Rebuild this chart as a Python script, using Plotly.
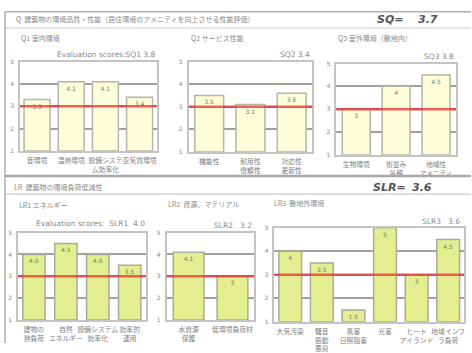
import plotly.graph_objects as go

W, H = 472, 353
JP = "Noto Sans CJK JP"

# ---- data ----
q1_cats = ["音環境", "温熱環境", "設備システ<br>ム効率化", "空気質環境"]
q1_vals = [3.3, 4.1, 4.1, 3.4]
q2_cats = ["機能性", "耐用性<br>信頼性", "対応性<br>更新性"]
q2_vals = [3.5, 3.1, 3.6]
q3_cats = ["生物環境", "街並み<br>景観", "地域性<br>アメニティ"]
q3_vals = [3, 4, 4.5]
lr1_cats = ["建物の<br>熱負荷", "自然<br>エネルギー", "設備システム<br>効率化", "効率的<br>運用"]
lr1_vals = [4.0, 4.5, 4.0, 3.5]
lr2_cats = ["水資源<br>保護", "低環境負荷材"]
lr2_vals = [4.1, 3]
lr3_cats = ["大気汚染", "騒音<br>振動<br>悪臭", "風害<br>日照阻害", "光害", "ヒート<br>アイランド", "地域インフ<br>ラ負荷"]
lr3_vals = [4, 3.5, 1.5, 5, 3, 4.5]
ref_level = 3
sq_total, slr_total = 3.7, 3.6
sub_scores = {"SQ1": 3.8, "SQ2": 3.4, "SQ3": 3.8, "SLR1": 4.0, "SLR2": 3.2, "SLR3": 3.6}

Q_FILL, Q_LINE = "#fffdd9", "#b8b5a2"
L_FILL, L_LINE = "#e4ee90", "#a9ab98"

# panel: cats, vals, fmt, fill, line, x px range, y px range, bar width
panels = [
    (q1_cats, q1_vals, "{:.1f}", Q_FILL, Q_LINE, (20, 157), (60, 153), 0.76),
    (q2_cats, q2_vals, "{:.1f}", Q_FILL, Q_LINE, (189, 313), (60, 154), 0.7),
    (q3_cats, q3_vals, "{:g}", Q_FILL, Q_LINE, (337, 457), (62, 157), 0.7),
    (lr1_cats, lr1_vals, "{:.1f}", L_FILL, L_LINE, (18, 146), (238, 329), 0.7),
    (lr2_cats, lr2_vals, "{:g}", L_FILL, L_LINE, (167, 255), (238, 329), 0.7),
    (lr3_cats, lr3_vals, "{:g}", L_FILL, L_LINE, (275, 465), (233, 331), 0.72),
]

fig = go.Figure()
layout = dict(width=W, height=H, margin=dict(l=0, r=0, t=0, b=0),
              paper_bgcolor="white", plot_bgcolor="white", showlegend=False,
              font=dict(family=JP, color="#888"))
shapes = []
for i, (cats, vals, fmt, fill, lc, (x0, x1), (y0, y1), bw) in enumerate(panels):
    n = "" if i == 0 else str(i + 1)
    fig.add_trace(go.Bar(
        x=cats, y=[v - 1 for v in vals], base=1, xaxis="x" + n, yaxis="y" + n, width=bw,
        marker=dict(color=fill, line=dict(color=lc, width=1.5)),
        text=[fmt.format(v) for v in vals], textposition="inside",
        insidetextanchor="end", textfont=dict(size=6, color="#777", family="DejaVu Sans"),
        constraintext="none", hoverinfo="skip",
    ))
    layout["xaxis" + n] = dict(domain=[x0 / W, x1 / W], anchor="y" + n,
                               showline=True, linecolor="#c4c4c4", linewidth=1.5, mirror=True,
                               showgrid=False, tickfont=dict(size=6.8, color="#808080", family=JP),
                               tickangle=0, fixedrange=True, ticklabelstandoff=2)
    layout["yaxis" + n] = dict(domain=[1 - y1 / H, 1 - y0 / H], anchor="x" + n,
                               range=[1, 5], dtick=1, tick0=1,
                               showline=True, linecolor="#c4c4c4", linewidth=1.5, mirror=True,
                               showgrid=True, gridcolor="#a0a0a0", gridwidth=2,
                               zeroline=False, tickfont=dict(size=6, color="#888", family="DejaVu Sans"),
                               ticklabelstandoff=3, fixedrange=True)
    shapes.append(dict(type="line", xref="x" + n + " domain", yref="y" + n,
                       x0=0, x1=1, y0=ref_level, y1=ref_level,
                       line=dict(color="rgba(238,55,55,0.8)", width=2.5), layer="above"))

# frame lines
def hline(y, xa=5, xb=472, color="#b0b0b0", w=1.5):
    shapes.append(dict(type="line", xref="paper", yref="paper", x0=xa / W, x1=xb / W,
                       y0=1 - y / H, y1=1 - y / H, line=dict(color=color, width=w)))

hline(8)
hline(25, color="#c8c8c8", w=1)
hline(179, color="#a8a8a8", w=2.5)
hline(198, color="#c0c0c0", w=1)
shapes.append(dict(type="line", xref="paper", yref="paper", x0=5 / W, x1=5 / W,
                   y0=0, y1=1 - 8 / H, line=dict(color="#b0b0b0", width=1.5)))
layout["shapes"] = shapes

def ann(text, x, y, size=7, anchor="left", color="#8a8a8a", family=JP):
    return dict(text=text, x=x / W, y=1 - y / H, xref="paper", yref="paper",
                xanchor=anchor, yanchor="middle", showarrow=False,
                font=dict(size=size, color=color, family=family))

anns = [
    ann("Q  建築物の環境品質・性能（居住環境のアメニティを向上させる性能評価）", 14, 16, 7),
    ann("<b><i>SQ=</i></b>", 376, 16, 11, color="#555", family="DejaVu Sans"),
    ann("<b><i>%s</i></b>" % sq_total, 417, 16, 11, color="#555", family="DejaVu Sans"),
    ann("Q1 室内環境", 19, 35, 7),
    ann("Q2 サービス性能", 189, 35, 7),
    ann("Q3 室外環境（敷地内）", 337, 35, 7),
    ann("Evaluation scores:SQ1 %.1f" % sub_scores["SQ1"], 158, 53, 7.5, "right", family="DejaVu Sans"),
    ann("SQ2 %.1f" % sub_scores["SQ2"], 313, 53, 7.5, "right", family="DejaVu Sans"),
    ann("SQ3 %.1f" % sub_scores["SQ3"], 457, 55, 7.5, "right", family="DejaVu Sans"),
    ann("LR  建築物の環境負荷低減性", 12, 191, 7),
    ann("<b><i>SLR=</i></b>", 372, 191, 11, color="#555", family="DejaVu Sans"),
    ann("<b><i>%s</i></b>" % slr_total, 411, 191, 11, color="#555", family="DejaVu Sans"),
    ann("LR1 エネルギー", 17, 209, 7),
    ann("LR2  資源、マテリアル", 166, 208, 7),
    ann("LR3  敷地外環境", 273, 207, 7),
    ann("Evaluation scores:  SLR1  %.1f" % sub_scores["SLR1"], 147, 229, 7.5, "right", family="DejaVu Sans"),
    ann("SLR2   %.1f" % sub_scores["SLR2"], 255, 231, 7.5, "right", family="DejaVu Sans"),
    ann("SLR3   %.1f" % sub_scores["SLR3"], 463, 227, 7.5, "right", family="DejaVu Sans"),
]
layout["annotations"] = anns
fig.update_layout(**layout)
fig.write_html("out.html")
